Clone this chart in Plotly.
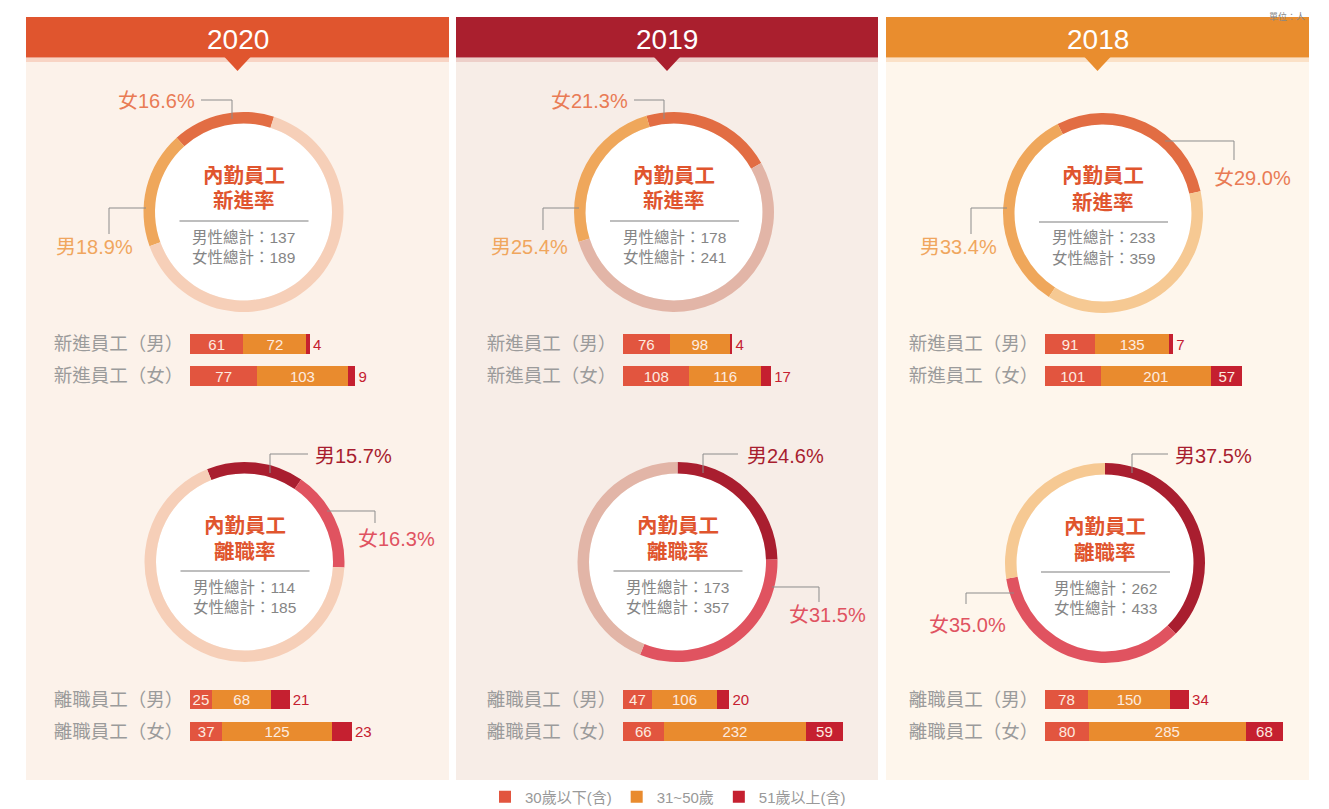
import plotly.graph_objects as go

# ---------------- data ----------------
years = ["2020", "2019", "2018"]

# ring rates (%)
hire_rate_female = [16.6, 21.3, 29.0]
hire_rate_male = [18.9, 25.4, 33.4]
leave_rate_male = [15.7, 24.6, 37.5]
leave_rate_female = [16.3, 31.5, 35.0]

# totals shown in ring centres
hire_total_male = [137, 178, 233]
hire_total_female = [189, 241, 359]
leave_total_male = [114, 173, 262]
leave_total_female = [185, 357, 433]

# head counts by age group  [<=30, 31~50, >=51] per year
age_groups = ["30歲以下(含)", "31~50歲", "51歲以上(含)"]
hire_male_by_age = [[61, 72, 4], [76, 98, 4], [91, 135, 7]]
hire_female_by_age = [[77, 103, 9], [108, 116, 17], [101, 201, 57]]
leave_male_by_age = [[25, 68, 21], [47, 106, 20], [78, 150, 34]]
leave_female_by_age = [[37, 125, 23], [66, 232, 59], [80, 285, 68]]

hire_rows = ["新進員工（男）", "新進員工（女）"]
leave_rows = ["離職員工（男）", "離職員工（女）"]

# ---------------- layout helpers ----------------
W, H = 1329, 809
OFF = 8  # page body margin


def fx(p):
    return (p - OFF) / W


def fy(p):
    return 1 - (p - OFF) / H


FONT = "Liberation Sans, Noto Sans CJK TC, sans-serif"
CJK = "Noto Sans CJK TC, sans-serif"

age_colors = ["#E2553F", "#E98B2E", "#C52030"]
hire_f_color, hire_m_color = "#E26D43", "#EFA75B"
leave_m_color, leave_f_color = "#A91E2F", "#E05360"
lbl_hire_f, lbl_hire_m = "#E97B55", "#F0A65E"
lbl_leave_m, lbl_leave_f = "#A81E2F", "#E05361"
LEADER = "#8C8C8C"

panels = [
    dict(x0=26, x1=449, head="#E0552E", strip="#F8D4C4", bg="#FCF2EA", rest="#F6CFB8",
         hc=(243.5, 212), lc=(244.5, 562), bx=(190, 430), scale=0.875,
         hrot=-42, lrot=-22,
         hf=dict(t=(196, 101, "right"), p=[(201, 100), (232, 100), (232, 119)]),
         hm=dict(t=(134, 247, "right"), p=[(146, 208), (109, 208), (109, 234)]),
         lm=dict(t=(314, 456, "left"), p=[(270, 473), (270, 454), (308, 454)]),
         lf=dict(t=(357, 539, "left"), p=[(327, 511), (375, 511), (375, 523)])),
    dict(x0=456, x1=878, head="#AA1F2E", strip="#EDCFC9", bg="#F7EDE7", rest="#E2B5A7",
         hc=(674, 212), lc=(677.5, 562), bx=(623, 870), scale=0.615,
         hrot=-16, lrot=0,
         hf=dict(t=(629, 101, "right"), p=[(634, 100), (664, 100), (664, 119)]),
         hm=dict(t=(569, 247, "right"), p=[(579, 208), (543, 208), (543, 230)]),
         lm=dict(t=(746, 456, "left"), p=[(703, 473), (703, 454), (738, 454)]),
         lf=dict(t=(788, 615, "left"), p=[(772, 587), (819, 587), (819, 602)])),
    dict(x0=886, x1=1309, head="#E98D2E", strip="#FBE1C7", bg="#FEF6EC", rest="#F6C993",
         hc=(1103, 213), lc=(1105, 563), bx=(1045, 1300), scale=0.55,
         hrot=-27, lrot=0,
         hf=dict(t=(1213, 178, "left"), p=[(1165, 141), (1234, 141), (1234, 160)]),
         hm=dict(t=(998, 247, "right"), p=[(1007, 208), (971, 208), (971, 234)]),
         lm=dict(t=(1174, 456, "left"), p=[(1132, 473), (1132, 454), (1168, 454)]),
         lf=dict(t=(1007, 625, "right"), p=[(1014, 593), (966, 593), (966, 604)])),
]

R_OUT, R_IN = 100, 88.5

fig = go.Figure()
shapes = []
annotations = []
layout_axes = {}


def note(x, y, text, font, xanchor="center", yanchor="middle"):
    annotations.append(dict(x=fx(x), y=fy(y), xref="paper", yref="paper", showarrow=False,
                            xanchor=xanchor, yanchor=yanchor, text=text, font=font, borderpad=0))


def path_of(pts):
    s = "M %f %f" % (fx(pts[0][0]), fy(pts[0][1]))
    for x, y in pts[1:]:
        s += " L %f %f" % (fx(x), fy(y))
    return s


def ring(cx, cy, labels, values, colors, rot, direction):
    fig.add_trace(go.Pie(
        labels=labels, values=values, sort=False, direction=direction, rotation=rot,
        hole=R_IN / R_OUT, textinfo="none", showlegend=False,
        marker=dict(colors=colors, line=dict(width=0)),
        domain=dict(x=[fx(cx - R_OUT), fx(cx + R_OUT)], y=[fy(cy + R_OUT), fy(cy - R_OUT)]),
    ))
    shapes.append(dict(type="circle", xref="paper", yref="paper", layer="below",
                       x0=fx(cx - R_IN), x1=fx(cx + R_IN), y0=fy(cy + R_IN), y1=fy(cy - R_IN),
                       fillcolor="white", line=dict(width=0)))


def centre_text(cx, cy, line2, tm, tf):
    tfont = dict(family=FONT, size=20.5, color="#E0552E")
    note(cx, cy - 37, "<b>內勤員工</b>", tfont)
    note(cx, cy - 11, "<b>%s</b>" % line2, tfont)
    shapes.append(dict(type="line", xref="paper", yref="paper", x0=fx(cx - 64), x1=fx(cx + 65),
                       y0=fy(cy + 9), y1=fy(cy + 9), line=dict(color="#A8A8A8", width=1.5)))
    sfont = dict(family=FONT, size=15.5, color="#858585")
    note(cx, cy + 25, "男性總計：%d" % tm, sfont)
    note(cx, cy + 45, "女性總計：%d" % tf, sfont)


def leader(spec, text, color):
    shapes.append(dict(type="path", xref="paper", yref="paper", path=path_of(spec["p"]),
                       line=dict(color=LEADER, width=1)))
    tx, ty, anchor = spec["t"]
    note(tx, ty, text, dict(family=FONT, size=20, color=color), xanchor=anchor)


for i, pnl in enumerate(panels):
    x0, x1 = pnl["x0"], pnl["x1"]
    xc = (x0 + x1) / 2
    # panel background, header, strip, pointer
    shapes.append(dict(type="rect", xref="paper", yref="paper", layer="below",
                       x0=fx(x0), x1=fx(x1), y0=fy(780), y1=fy(62), fillcolor=pnl["bg"], line=dict(width=0)))
    shapes.append(dict(type="rect", xref="paper", yref="paper", layer="below",
                       x0=fx(x0), x1=fx(x1), y0=fy(62), y1=fy(57.5), fillcolor=pnl["strip"], line=dict(width=0)))
    shapes.append(dict(type="rect", xref="paper", yref="paper", layer="below",
                       x0=fx(x0), x1=fx(x1), y0=fy(57.5), y1=fy(17), fillcolor=pnl["head"], line=dict(width=0)))
    shapes.append(dict(type="path", xref="paper", yref="paper", layer="below",
                       path=path_of([(xc - 13, 57), (xc + 13, 57), (xc, 71)]) + " Z",
                       fillcolor=pnl["head"], line=dict(width=0)))
    note(xc, 39, years[i], dict(family=FONT, size=28, color="white"))

    # rings
    hcx, hcy = pnl["hc"]
    hf, hm = hire_rate_female[i], hire_rate_male[i]
    ring(hcx, hcy, ["女", "男", "其他"], [hf, hm, 100 - hf - hm],
         [hire_f_color, hire_m_color, pnl["rest"]], pnl["hrot"], "counterclockwise")
    centre_text(hcx, hcy, "新進率", hire_total_male[i], hire_total_female[i])
    leader(pnl["hf"], "女%.1f%%" % hf, lbl_hire_f)
    leader(pnl["hm"], "男%.1f%%" % hm, lbl_hire_m)

    lcx, lcy = pnl["lc"]
    lm, lf = leave_rate_male[i], leave_rate_female[i]
    ring(lcx, lcy, ["男", "女", "其他"], [lm, lf, 100 - lm - lf],
         [leave_m_color, leave_f_color, pnl["rest"]], pnl["lrot"], "clockwise")
    centre_text(lcx, lcy, "離職率", leave_total_male[i], leave_total_female[i])
    leader(pnl["lm"], "男%.1f%%" % lm, lbl_leave_m)
    leader(pnl["lf"], "女%.1f%%" % lf, lbl_leave_f)

    # bars
    bx0, bx1 = pnl["bx"]
    groups = [(hire_rows, hire_male_by_age, hire_female_by_age, (328, 392)),
              (leave_rows, leave_male_by_age, leave_female_by_age, (683.5, 747.5))]
    for g, (rows, mdat, fdat, (ytop, ybot)) in enumerate(groups):
        k = i * 2 + g + 1
        xa = "x" if k == 1 else "x%d" % k
        ya = "y" if k == 1 else "y%d" % k
        for a in range(3):
            vals = [mdat[i][a], fdat[i][a]]
            if a < 2:
                tpos = ["inside", "inside"]
            else:
                tpos = ["inside" if v * pnl["scale"] >= 26 else "outside" for v in vals]
            fig.add_trace(go.Bar(
                y=rows, x=vals, orientation="h", xaxis=xa, yaxis=ya,
                name=age_groups[a], legendgroup=age_groups[a], showlegend=(k == 1),
                marker=dict(color=age_colors[a], line=dict(width=0)),
                text=[str(v) for v in vals], textposition=tpos, insidetextanchor="middle",
                textangle=0, constraintext="none", cliponaxis=False,
                insidetextfont=dict(family=FONT, size=15, color="#FDEBE0"),
                outsidetextfont=dict(family=FONT, size=15, color="#C52030"),
            ))
        xkey = "xaxis" if k == 1 else "xaxis%d" % k
        ykey = "yaxis" if k == 1 else "yaxis%d" % k
        layout_axes[xkey] = dict(domain=[fx(bx0), fx(bx1)], range=[0, (bx1 - bx0) / pnl["scale"]],
                                 visible=False, anchor=ya, fixedrange=True)
        layout_axes[ykey] = dict(domain=[fy(ybot), fy(ytop)], anchor=xa, type="category",
                                 categoryorder="array", categoryarray=rows, autorange="reversed",
                                 showgrid=False, zeroline=False, showline=False,
                                 ticks="outside", ticklen=2, tickcolor="rgba(0,0,0,0)",
                                 tickfont=dict(family=CJK, size=18.5, color="#9B9B9B"), fixedrange=True)

# unit note (top right, above the 2018 header)
note(1306, 8.5, "單位：人", dict(family=CJK, size=9, color="#888888"), xanchor="right", yanchor="top")

fig.update_layout(
    width=W, height=H, margin=dict(l=0, r=0, t=0, b=0),
    paper_bgcolor="white", plot_bgcolor="rgba(0,0,0,0)",
    barmode="stack", bargap=0.4,
    shapes=shapes, annotations=annotations,
    showlegend=True,
    legend=dict(orientation="h", x=fx(668), xanchor="center", y=fy(797), yanchor="middle",
                bgcolor="rgba(0,0,0,0)", itemwidth=30, traceorder="normal",
                font=dict(family=FONT, size=15, color="#999999")),
    font=dict(family=FONT),
    **layout_axes,
)

fig.write_html("out.html")
